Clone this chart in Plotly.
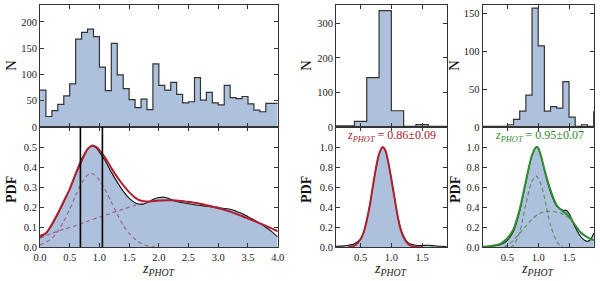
import plotly.graph_objects as go

# ---------------- data ----------------
# Panel 1 histogram (bins of 0.1 from 0 to 4)
h1_bin_width = 0.1
h1_start = 0.0
h1_counts = [70, 20, 31, 43, 59, 82, 167, 180, 186, 172,
             114, 69, 159, 99, 73, 52, 37, 53, 33, 120,
             79, 70, 85, 62, 46, 48, 94, 51, 66, 46,
             42, 79, 56, 54, 58, 44, 32, 29, 45, 45]

# Panel 2 histogram (bins of 0.2 from 0 to 2)
h2_bin_width = 0.2
h2_start = 0.0
h2_counts = [3, 3, 16, 143, 337, 47, 2, 7, 2, 2]

# Panel 3 histogram (bins of 0.1 from 0 to 2)
h3_bin_width = 0.1
h3_start = 0.0
h3_counts = [1, 1, 1, 1, 1, 3, 10, 21, 42, 157,
             107, 21, 27, 25, 60, 13, 1, 3, 1, 20]

# Panel 1 PDF
p1_kde_x = [0.0, 0.1, 0.2, 0.3, 0.4, 0.5, 0.6, 0.7, 0.8, 0.87, 0.95, 1.0, 1.1, 1.2, 1.3, 1.4,
            1.5, 1.6, 1.7, 1.8, 1.9, 2.0, 2.1, 2.2, 2.3, 2.4, 2.6, 2.8, 3.0, 3.2, 3.3, 3.4,
            3.5, 3.6, 3.7, 3.8, 3.9, 4.0]
p1_kde_y = [0.05, 0.07, 0.11, 0.165, 0.225, 0.29, 0.37, 0.44, 0.49, 0.505, 0.495, 0.475, 0.43,
            0.375, 0.325, 0.28, 0.245, 0.222, 0.214, 0.222, 0.238, 0.248, 0.25, 0.24, 0.228,
            0.222, 0.212, 0.205, 0.198, 0.19, 0.18, 0.168, 0.153, 0.137, 0.12, 0.1, 0.078, 0.052]
p1_fit_x = [0.0, 0.1, 0.2, 0.3, 0.4, 0.5, 0.6, 0.7, 0.8, 0.88, 0.95, 1.0, 1.1, 1.2, 1.3, 1.4,
            1.5, 1.6, 1.7, 1.8, 2.0, 2.2, 2.4, 2.6, 2.8, 3.0, 3.2, 3.4, 3.6, 3.8, 4.0]
p1_fit_y = [0.057, 0.07, 0.115, 0.17, 0.23, 0.29, 0.365, 0.43, 0.49, 0.508, 0.5, 0.485, 0.445,
            0.395, 0.35, 0.31, 0.275, 0.248, 0.232, 0.228, 0.233, 0.235, 0.23, 0.222, 0.21,
            0.195, 0.178, 0.155, 0.132, 0.107, 0.08]
p1_comp1_x = [0.0, 0.1, 0.2, 0.3, 0.4, 0.5, 0.6, 0.7, 0.8, 0.85, 0.9, 1.0, 1.1, 1.2, 1.3, 1.4,
              1.5, 1.6, 1.7, 1.8, 1.9, 2.0]
p1_comp1_y = [0.012, 0.025, 0.045, 0.08, 0.13, 0.19, 0.26, 0.32, 0.36, 0.368, 0.365, 0.335,
              0.285, 0.225, 0.165, 0.11, 0.07, 0.04, 0.02, 0.008, 0.002, 0.0]
p1_comp2_x = [0.0, 0.2, 0.4, 0.6, 0.8, 1.0, 1.2, 1.4, 1.6, 1.8, 2.0, 2.2, 2.4, 2.6, 2.8, 3.0,
              3.2, 3.4, 3.6, 3.8, 4.0]
p1_comp2_y = [0.045, 0.07, 0.09, 0.108, 0.13, 0.15, 0.17, 0.19, 0.21, 0.223, 0.232, 0.235,
              0.232, 0.225, 0.213, 0.2, 0.18, 0.158, 0.135, 0.108, 0.08]
p1_vlines = [0.68, 1.05]

# Panel 2 PDF
p2_kde_x = [0.1, 0.2, 0.3, 0.4, 0.5, 0.55, 0.6, 0.65, 0.7, 0.75, 0.8, 0.86, 0.9, 0.95, 1.0,
            1.05, 1.1, 1.15, 1.2, 1.25, 1.3, 1.4, 1.5, 1.6, 1.7, 1.8, 1.9]
p2_kde_y = [0.01, 0.012, 0.02, 0.035, 0.085, 0.15, 0.27, 0.42, 0.61, 0.79, 0.93, 1.0, 0.97,
            0.85, 0.68, 0.5, 0.32, 0.19, 0.11, 0.06, 0.035, 0.02, 0.018, 0.02, 0.015, 0.01, 0.008]
p2_fit_x = [0.3, 0.4, 0.5, 0.55, 0.6, 0.65, 0.7, 0.75, 0.8, 0.86, 0.9, 0.95, 1.0, 1.05, 1.1,
            1.15, 1.2, 1.25, 1.3, 1.4, 1.5]
p2_fit_y = [0.002, 0.016, 0.08, 0.15, 0.27, 0.42, 0.61, 0.79, 0.93, 1.0, 0.97, 0.85, 0.68,
            0.5, 0.32, 0.18, 0.1, 0.05, 0.022, 0.004, 0.0]
p2_label = "<i>z</i><sub><i>PHOT</i></sub> = 0.86\u00b10.09"

# Panel 3 PDF
p3_kde_x = [0.1, 0.2, 0.3, 0.4, 0.5, 0.6, 0.7, 0.8, 0.9, 0.97, 1.0, 1.05, 1.1, 1.2, 1.3, 1.4,
            1.45, 1.5, 1.6, 1.7, 1.8, 1.85, 1.9]
p3_kde_y = [0.003, 0.008, 0.015, 0.03, 0.07, 0.16, 0.36, 0.65, 0.92, 1.0, 0.99, 0.9, 0.77,
            0.55, 0.41, 0.37, 0.37, 0.34, 0.2, 0.1, 0.06, 0.08, 0.14]
p3_fit_x = [0.1, 0.2, 0.3, 0.4, 0.5, 0.6, 0.7, 0.8, 0.9, 0.97, 1.0, 1.05, 1.1, 1.2, 1.3, 1.4,
            1.5, 1.6, 1.7, 1.8, 1.9]
p3_fit_y = [0.005, 0.01, 0.02, 0.04, 0.09, 0.18, 0.38, 0.66, 0.92, 1.0, 0.99, 0.9, 0.78,
            0.57, 0.42, 0.36, 0.31, 0.22, 0.14, 0.1, 0.07]
p3_comp1_x = [0.55, 0.6, 0.7, 0.8, 0.9, 0.97, 1.05, 1.1, 1.2, 1.3, 1.35, 1.4]
p3_comp1_y = [0.0, 0.02, 0.15, 0.43, 0.66, 0.71, 0.62, 0.5, 0.22, 0.06, 0.02, 0.0]
p3_comp2_x = [0.45, 0.5, 0.6, 0.7, 0.8, 0.9, 1.0, 1.1, 1.2, 1.3, 1.4, 1.5, 1.6, 1.7, 1.8, 1.9]
p3_comp2_y = [0.0, 0.02, 0.07, 0.14, 0.21, 0.28, 0.33, 0.355, 0.36, 0.35, 0.33, 0.29, 0.22,
              0.15, 0.1, 0.07]
p3_label = "<i>z</i><sub><i>PHOT</i></sub> = 0.95\u00b10.07"

# ---------------- style ----------------
FILL = "#adc0dc"
EDGE = "#333333"
RED = "#b0202f"
GREEN = "#2f8c2f"
SERIF = "Liberation Serif"

fig = go.Figure()


def step_hist(counts, start, width, xa, ya):
    edges = [round(start + i * width, 6) for i in range(len(counts) + 1)]
    ys = list(counts) + [counts[-1]]
    fig.add_trace(go.Scatter(x=edges, y=ys, mode="lines", line=dict(shape="hv", color=EDGE, width=1.2),
                             fill="tozeroy", fillcolor=FILL, xaxis=xa, yaxis=ya,
                             showlegend=False, hoverinfo="skip"))


step_hist(h1_counts, h1_start, h1_bin_width, "x", "y")
step_hist(h2_counts, h2_start, h2_bin_width, "x2", "y2")
step_hist(h3_counts, h3_start, h3_bin_width, "x3", "y3")


def line(x, y, xa, ya, color, width, dash="solid", fill=None, shape="spline"):
    fig.add_trace(go.Scatter(x=x, y=y, mode="lines",
                             line=dict(color=color, width=width, dash=dash, shape=shape, smoothing=0.8),
                             fill=fill, fillcolor=FILL if fill else None,
                             xaxis=xa, yaxis=ya, showlegend=False, hoverinfo="skip"))


# Panel 1 PDF
line(p1_kde_x, p1_kde_y, "x4", "y4", "#111111", 1.1, fill="tozeroy")
line(p1_comp1_x, p1_comp1_y, "x4", "y4", "rgba(150,50,100,0.7)", 1.1, dash="4px,3px")
line(p1_comp2_x, p1_comp2_y, "x4", "y4", "rgba(150,50,100,0.7)", 1.1, dash="4px,3px")
line(p1_fit_x, p1_fit_y, "x4", "y4", RED, 2.0)
for v in p1_vlines:
    fig.add_shape(type="line", x0=v, x1=v, y0=0, y1=1, xref="x4", yref="y4 domain",
                  line=dict(color="black", width=1.6))

# Panel 2 PDF
line(p2_kde_x, p2_kde_y, "x5", "y5", "#111111", 1.1, fill="tozeroy")
line(p2_fit_x, p2_fit_y, "x5", "y5", RED, 2.0)

# Panel 3 PDF
line(p3_kde_x, p3_kde_y, "x6", "y6", "#111111", 1.1, fill="tozeroy")
line(p3_comp1_x, p3_comp1_y, "x6", "y6", "rgba(60,120,60,0.75)", 1.1, dash="4px,3px")
line(p3_comp2_x, p3_comp2_y, "x6", "y6", "rgba(60,120,60,0.75)", 1.1, dash="4px,3px")
line(p3_fit_x, p3_fit_y, "x6", "y6", GREEN, 2.0)

W, H = 600, 281
col_x = [(40, 277.7), (336, 446.7), (482.7, 594)]
top_y = (5, 127)
bot_y = (127, 247.3)


def xd(a, b):
    return [a / W, b / W]


def yd(a, b):
    return [1 - b / H, 1 - a / H]


axis_common = dict(showline=True, linecolor=EDGE, linewidth=1, mirror="ticks", ticks="inside",
                   ticklen=4, tickwidth=1, tickcolor=EDGE, showgrid=False, zeroline=False,
                   automargin=False,
                   tickfont=dict(family=SERIF, size=10.5, color="#222222"))

layout = dict(width=W, height=H, margin=dict(l=0, r=0, t=0, b=0, autoexpand=False),
              paper_bgcolor="white", plot_bgcolor="white", showlegend=False)

xranges = [[0, 4], [0.1, 1.9], [0.1, 1.905]]
xticks = [[0, 0.5, 1.0, 1.5, 2.0, 2.5, 3.0, 3.5, 4.0], [0.5, 1.0, 1.5], [0.5, 1.0, 1.5]]
hist_yranges = [[0, 232], [0, 353], [0, 161]]
hist_yticks = [[0, 50, 100, 150, 200], [0, 100, 200, 300], [0, 50, 100, 150]]
pdf_yranges = [[0, 0.6], [0, 1.2], [0, 1.2]]
pdf_yticks = [[0, 0.1, 0.2, 0.3, 0.4, 0.5], [0, 0.2, 0.4, 0.6, 0.8, 1.0], [0, 0.2, 0.4, 0.6, 0.8, 1.0]]

for i in range(3):
    n_top = i + 1
    n_bot = i + 4
    kx_t = "xaxis" if n_top == 1 else f"xaxis{n_top}"
    ky_t = "yaxis" if n_top == 1 else f"yaxis{n_top}"
    kx_b = f"xaxis{n_bot}"
    ky_b = f"yaxis{n_bot}"
    a, b = col_x[i]
    layout[kx_t] = dict(axis_common, domain=xd(a, b), range=xranges[i], tickvals=xticks[i],
                        showticklabels=False, anchor="y" if n_top == 1 else f"y{n_top}")
    layout[ky_t] = dict(axis_common, domain=yd(*top_y), range=hist_yranges[i], tickvals=hist_yticks[i],
                        anchor="x" if n_top == 1 else f"x{n_top}")
    layout[kx_b] = dict(axis_common, domain=xd(a, b), range=xranges[i], tickvals=xticks[i],
                        tickformat=".1f", anchor=f"y{n_bot}")
    layout[ky_b] = dict(axis_common, domain=yd(*bot_y), range=pdf_yranges[i], tickvals=pdf_yticks[i],
                        tickformat=".1f", anchor=f"x{n_bot}")

fig.update_layout(**layout)


def note(px, py, text, size, color, angle=0, yanchor="middle"):
    fig.add_annotation(x=px / W, y=1 - py / H, xref="paper", yref="paper", text=text,
                       textangle=angle, showarrow=False, xanchor="center", yanchor=yanchor,
                       font=dict(family=SERIF, size=size, color=color))


# axis labels
n_x = [11, 306, 454]
pdf_x = [11, 306, 455]
for i in range(3):
    note(n_x[i], 66, "N", 15, "#111111", angle=-90)
    note(pdf_x[i], 190, "<b>PDF</b>", 14, "#111111", angle=-90)
    a, b = col_x[i]
    note((a + b) / 2, 259, "<i>z</i><sub><i>PHOT</i></sub>", 14, "#222222", yanchor="top")

note((336 + 446.7) / 2, 136, p2_label, 12, "#a3202e")
note((482.7 + 594) / 2 + 1, 136, p3_label, 12, GREEN)

fig.write_html("out.html", config={"displayModeBar": False},
               post_script="document.body.style.margin='0';document.body.style.overflow='hidden';")
